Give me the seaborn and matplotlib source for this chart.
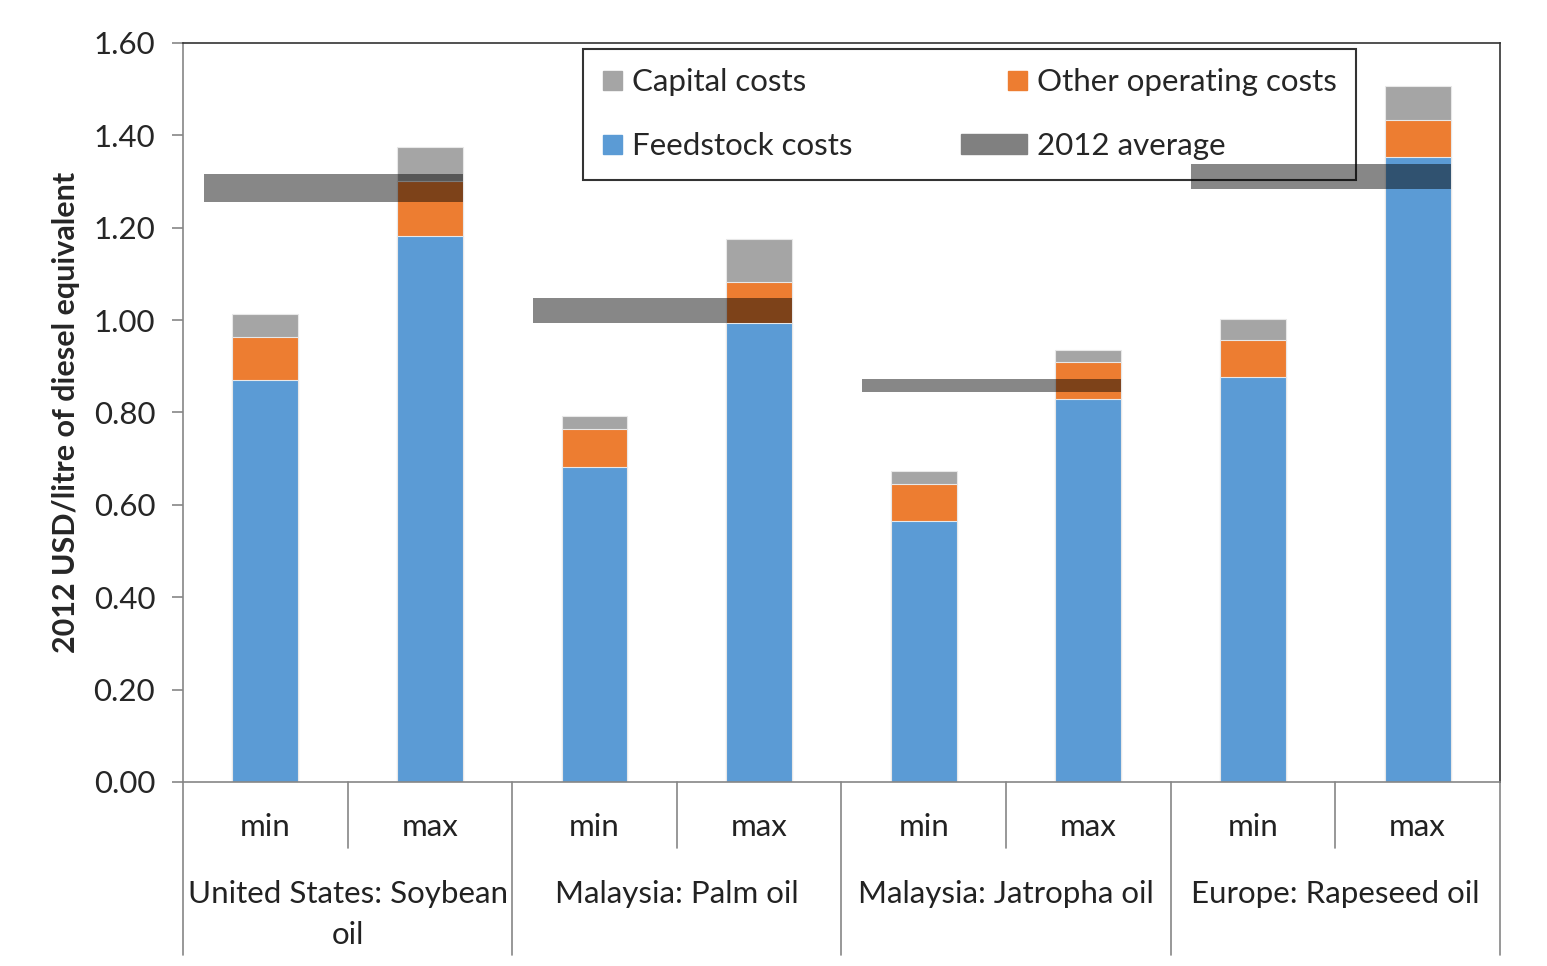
import matplotlib.pyplot as plt
import matplotlib.transforms as mtransforms
from matplotlib.legend_handler import HandlerPatch
from matplotlib.patches import Patch, Rectangle
import pandas as pd
import seaborn as sns

sns.set_theme(style="white")
plt.rcParams["font.family"] = ["Lato", "DejaVu Sans"]

# data
groups = ["United States: Soybean\noil", "Malaysia: Palm oil",
          "Malaysia: Jatropha oil", "Europe: Rapeseed oil"]
levels = ["min", "max"]
feedstock = [0.870, 1.182, 0.682, 0.994, 0.565, 0.829, 0.877, 1.353]
other_operating = [0.093, 0.119, 0.082, 0.088, 0.080, 0.080, 0.080, 0.080]
capital = [0.050, 0.074, 0.028, 0.094, 0.028, 0.026, 0.045, 0.074]
avg_low = [1.256, 0.994, 0.844, 1.284]
avg_high = [1.316, 1.048, 0.872, 1.338]

BLUE = "#5B9BD5"
ORANGE = "#ED7D31"
GREY = "#A5A5A5"
FS = 22.5

bars = [f"{g}|{lv}" for g in groups for lv in levels]
df = pd.DataFrame({"bar": bars, "feed": feedstock,
                   "other": other_operating, "cap": capital})
df["feed_other"] = df["feed"] + df["other"]
df["total"] = df["feed_other"] + df["cap"]

fig = plt.figure(figsize=(15.47, 9.66), dpi=100)
ax = fig.add_axes([0.1183, 0.1905, 0.8513, 0.765])

kw = dict(x="bar", order=bars, width=0.4, edgecolor="#E8E8E8", linewidth=0.8, ax=ax)
sns.barplot(data=df, y="total", color=GREY, saturation=1, **kw)
sns.barplot(data=df, y="feed_other", color=ORANGE, saturation=1, **kw)
sns.barplot(data=df, y="feed", color=BLUE, saturation=1, **kw)

# 2012 average bands, from left of group to right edge of the max bar
for i, (lo, hi) in enumerate(zip(avg_low, avg_high)):
    x0 = 2 * i - 0.375
    x1 = 2 * i + 1 + 0.2
    ax.fill_between([x0, x1], lo, hi, color="black", alpha=0.47,
                    linewidth=0, zorder=5)

ax.set_xlim(-0.5, len(bars) - 0.5)
ax.set_ylim(0, 1.6)
ax.set_yticks([i * 0.2 for i in range(9)])
ax.set_yticklabels([f"{i * 0.2:.2f}" for i in range(9)], fontsize=FS)
ax.tick_params(axis="y", which="major", left=True, length=8, width=1.2,
               color="#868686", pad=12)
ax.set_xticks([])
ax.set_xlabel("")
ax.set_ylabel("2012 USD/litre of diesel equivalent", fontsize=22,
              fontweight="bold", labelpad=10)
for s in ax.spines.values():
    s.set_color("#868686")
    s.set_linewidth(1.2)
ax.spines["top"].set_color("#333333")
ax.spines["right"].set_color("#333333")

# two-level category axis
trans = mtransforms.blended_transform_factory(ax.transData, ax.transAxes)
for i, b in enumerate(bars):
    ax.text(i, -0.061, b.split("|")[1], transform=trans, ha="center",
            va="center", fontsize=FS, color="#222222")
for gi, g in enumerate(groups):
    ax.text(2 * gi + 0.5, -0.132, g, transform=trans, ha="center", va="top",
            fontsize=FS, color="#222222", linespacing=1.6)
    ax.plot([2 * gi + 0.5, 2 * gi + 0.5], [0, -0.089], transform=trans,
            color="#868686", lw=1.2, clip_on=False)
for k in range(len(groups) + 1):
    xb = 2 * k - 0.5
    ax.plot([xb, xb], [0, -0.234], transform=trans, color="#868686",
            lw=1.2, clip_on=False)


def square(legend, orig_handle, xdescent, ydescent, width, height, fontsize):
    s = min(width, height)
    return Rectangle((width - s - xdescent, (height - s) / 2 - ydescent), s, s)


def wide_bar(legend, orig_handle, xdescent, ydescent, width, height, fontsize):
    w = 3.4 * width
    return Rectangle((width - w - xdescent, -ydescent), w, height)


handles = [Patch(color=GREY), Patch(color=BLUE), Patch(color=ORANGE),
           Patch(color="#808080")]
labels = ["Capital costs", "Feedstock costs", "Other operating costs", "2012 average"]
hmap = {handles[0]: HandlerPatch(patch_func=square),
        handles[1]: HandlerPatch(patch_func=square),
        handles[2]: HandlerPatch(patch_func=square),
        handles[3]: HandlerPatch(patch_func=wide_bar)}
leg = ax.legend(handles, labels, ncol=2, loc="upper left", handler_map=hmap,
                bbox_to_anchor=(0.304, 0.992, 0.587, 0.0), mode="expand",
                borderaxespad=0, fontsize=FS, frameon=True, fancybox=False,
                handlelength=0.62, handleheight=0.62, handletextpad=0.32,
                borderpad=0.62, labelspacing=1.15, columnspacing=2.0)
leg.get_frame().set_edgecolor("black")
leg.get_frame().set_linewidth(1.5)
leg.set_zorder(3)

fig.savefig("out.png", dpi=100)
